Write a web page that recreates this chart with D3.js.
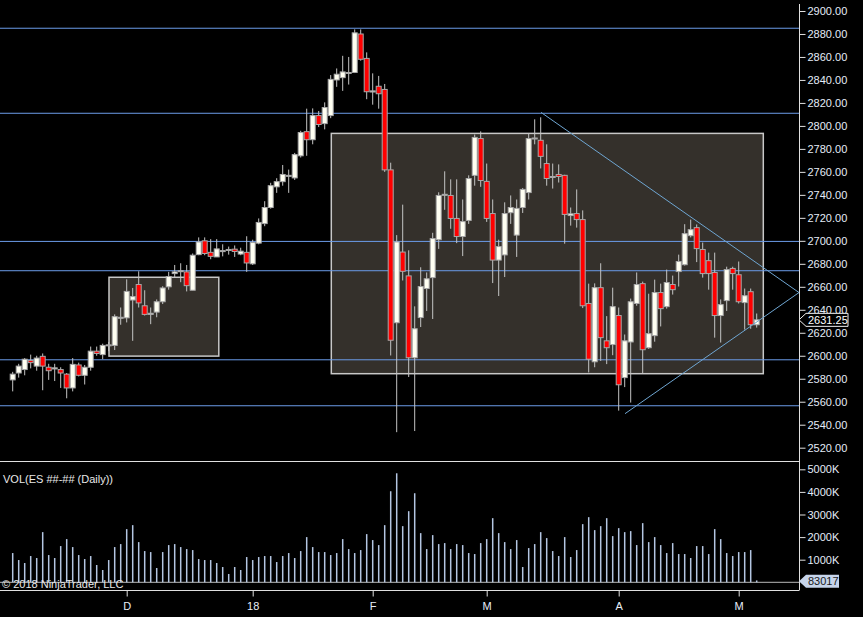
<!DOCTYPE html>
<html lang="en">
<head>
    <meta charset="UTF-8">
    <title>ES ##-## Daily</title>
    <script src="https://cdnjs.cloudflare.com/ajax/libs/d3/7.8.5/d3.min.js"></script>
    <style>
        body { margin: 0; background: #000; }
        svg { display: block; font-family: "Liberation Sans", Arial, sans-serif; }
    </style>
</head>
<body>
<svg id="chart" width="863" height="617"></svg>
<script>
// daily bars, oldest first
const opens = [2579,2585,2588,2596,2591,2599.5,2590,2588.5,2588,2584,2572,2592,2583,2590,2604,2601,2609.5,2609,2633,2633,
  2648.5,2662,2643.5,2636,2638,2647,2660,2671.5,2673.5,2673,2657,2688,2700,2690,2686,2691,2692,2692.75,2688.5,2690,
  2680,2698,2715,2729,2747,2751.5,2756.5,2754.75,2774,2795,2788,2809,2802,2809,2840,2842,2846.5,2846.5,2880,2858.75,
  2829.5,2834.5,2831.75,2761.75,2628.75,2690.25,2669.5,2598.25,2633.25,2658.5,2668,2701,2740,2739.5,2719.5,2703.75,2717.75,2757,2789,2751.75,
  2723.75,2683.25,2687.75,2724.5,2705,2729,2742,2789,2787.5,2767.25,2755.5,2757.75,2757,2722,2723.75,2718.5,2645.5,2594.75,2659.25,2613,
  2609.75,2635,2581,2612,2645.5,2662.75,2607,2617.5,2655,2642.75,2662,2673.25,2679.25,2704.5,2711.5,2692.5,2682.75,2672.5,2635,2648,
  2676,2670.5,2646.25,2655.75,2627];
const highs = [2586,2593,2598,2601,2600,2602,2593,2593,2590,2585,2598,2594,2592,2608,2608,2610.5,2612,2636,2642,2666.5,
  2659,2673.5,2657,2642,2649,2660.5,2673,2679,2680.5,2679,2689,2703,2703,2701.5,2701.5,2697,2695,2696,2694,2704,
  2701,2719.5,2734.5,2750.5,2754.5,2766,2762,2776.5,2795.75,2815,2815.25,2813,2820.5,2844.25,2850,2861,2860,2884,2884,2864,
  2845.75,2843.5,2836.5,2768,2705,2731.5,2691.75,2643,2677,2672.5,2707,2742.25,2760.5,2753.5,2753.5,2736,2757,2792.5,2795.25,2767.25,
  2736,2701,2733.5,2739.5,2736,2746,2793.5,2805.75,2807.5,2784,2767.25,2766.5,2757.5,2729,2744.75,2726.5,2662.75,2663,2680.5,2634.5,
  2659.25,2642,2618.5,2649.75,2672.5,2664.5,2654,2666.25,2662.75,2675,2669.75,2688,2714.5,2718.5,2714.25,2698.5,2689.75,2689.75,2649,2677.5,
  2677.5,2682,2658.5,2658.5,2636.75];
const lows = [2569,2581,2583,2589,2587,2570,2579,2578,2572,2563,2569,2582,2575,2587,2600,2597,2604,2605,2627,2629,
  2613,2642,2635,2627.5,2633.5,2645,2657.5,2668,2664,2656,2657,2687.5,2687.5,2684,2686,2686.5,2688,2686,2687.5,2673,
  2679,2697,2712.75,2728,2741.75,2748,2741.75,2753,2772.5,2774,2784,2799,2797,2806.75,2834,2830.5,2836,2846,2856.75,2823.25,
  2818.5,2815,2760,2600.25,2533.5,2665.5,2581.5,2534.5,2625,2639,2632,2693,2727,2710.5,2698,2686.75,2714.75,2748,2747,2716.5,
  2663.25,2652,2668.5,2714.75,2686,2724.25,2736,2784,2763,2748,2745.5,2750.75,2697.5,2713.25,2711.5,2641.5,2585.5,2590,2595.5,2592.75,
  2600.5,2552.25,2572.75,2559.25,2643.5,2585,2606,2612.25,2625.5,2641,2653.25,2660.25,2678.5,2703,2681.5,2668,2657.5,2615.75,2611.5,2639,
  2657.5,2645.5,2622.75,2623.5,2624.5];
const closes = [2584,2591,2597,2594,2598,2591,2587,2589.5,2585,2572,2592.5,2583,2590,2604,2602,2609,2609.5,2634,2633.5,2656,
  2651.5,2646,2636,2637,2647,2659,2669,2673,2674,2661,2687.5,2699,2689,2686.5,2693,2691.5,2692.5,2690.75,2691,2680.75,
  2698.5,2716,2729,2748,2751.5,2757.75,2757,2775,2794.25,2788,2809,2801.25,2816,2840.5,2845,2847,2846.5,2881,2858,2829.75,
  2830.5,2828,2761.75,2613.5,2699,2673.5,2598.25,2623.5,2660.25,2667,2702,2739.5,2740.5,2719.5,2703.75,2716.75,2754.25,2790,2752.5,2719.5,
  2683.25,2695,2723.75,2729,2728.25,2744.75,2789,2789.5,2773.5,2754.25,2756,2756,2723,2723.5,2718.5,2643.5,2597,2659.25,2615.75,2607,
  2642.75,2574.75,2613,2647,2662,2605.25,2619.25,2655,2641,2663.75,2657.5,2682,2706.25,2709.75,2693.25,2671.5,2671.5,2635,2644.5,2675,
  2671.5,2647,2652.25,2627,2631.25];
// volume in thousands
const volumes = [1294,985,853,1162,1074,2220,1206,1074,1603,1912,1559,1206,1029,1162,765,544,985,1559,1691,2353,
  2529,1779,1382,1338,632,1338,1647,1691,1559,1470,1426,1029,985,985,853,676,368,676,544,1118,
  985,1118,1162,1162,897,1162,1294,1074,1382,2000,1559,1338,1338,1206,1294,1912,1470,1294,1426,2132,
  1868,1647,2529,4029,4824,2485,3147,3941,2176,1470,2088,1691,1735,1470,1691,1647,1294,1250,1735,1912,
  2838,2176,1779,1470,1868,676,1515,1691,2220,1956,1382,1162,2000,1118,1426,2574,2882,2309,2485,2838,
  2044,2397,2220,2265,1647,2618,1779,2000,1647,1294,1735,1250,1250,1074,1603,1603,1250,2353,1912,1294,
  1162,1338,1338,1426,83.017];

const tickBars = [19, 40, 60, 79, 101, 121];
const tickLabels = ["D", "18", "F", "M", "A", "M"];
const priceTicks = d3.range(2520, 2901, 20);
const volTicks = [1000, 2000, 3000, 4000, 5000];

// drawing objects (bar index, price)
const levels = [2885, 2811, 2699.5, 2674, 2596.5, 2556.5];
const boxBars = [[16.05, 34.35], [53.1, 125.1]];
const boxPrices = [[2668.3, 2599.7], [2793.5, 2584.4]];
const triangle = [[88.05, 2811.8], [131.05, 2655], [102.05, 2549.6]];

const axisX = 799;
const svg = d3.select("#chart");
svg.append("rect").attr("width", 863).attr("height", 617).attr("fill", "#000");

const x = d3.scaleLinear().domain([0, 124]).range([12.7, 756.7]);
const y = d3.scaleLinear().domain([2520, 2900]).range([447.7, 11]);
const yv = d3.scaleLinear().domain([0, 5000]).range([582.3, 469.3]);

// boxes
svg.append("g").selectAll("rect").data(boxBars).enter().append("rect")
    .attr("x", d => x(d[0]))
    .attr("width", d => x(d[1]) - x(d[0]))
    .attr("y", (d, i) => y(boxPrices[i][0]))
    .attr("height", (d, i) => y(boxPrices[i][1]) - y(boxPrices[i][0]))
    .attr("fill", "#34302b")
    .attr("stroke", "#c8c8c8")
    .attr("stroke-width", 1.5);

// horizontal levels
svg.append("g").selectAll("line").data(levels).enter().append("line")
    .attr("x1", 0).attr("x2", axisX)
    .attr("y1", d => y(d)).attr("y2", d => y(d))
    .attr("stroke", "#6b9be8").attr("stroke-width", 1);

// candles
const bars = d3.range(opens.length);
const candles = svg.append("g");
candles.selectAll("line").data(bars).enter().append("line")
    .attr("x1", i => x(i)).attr("x2", i => x(i))
    .attr("y1", i => y(highs[i])).attr("y2", i => y(lows[i]))
    .attr("stroke", "#c4c4c4").attr("stroke-width", 1);
candles.selectAll("rect").data(bars).enter().append("rect")
    .attr("x", i => x(i) - 2.5)
    .attr("width", 5)
    .attr("y", i => y(Math.max(opens[i], closes[i])))
    .attr("height", i => Math.max(1, Math.abs(y(opens[i]) - y(closes[i]))))
    .attr("fill", i => closes[i] > opens[i] ? "#fffff2" : closes[i] < opens[i] ? "#ff0000" : "#c8c8c8")
    .attr("stroke", "#a8a8a8").attr("stroke-width", 1);

// triangle
svg.append("path")
    .attr("d", d3.line().x(d => x(d[0])).y(d => y(d[1]))(triangle))
    .attr("fill", "none").attr("stroke", "#6fa6d2").attr("stroke-width", 1);

// panel borders
svg.append("line").attr("x1", 0).attr("x2", axisX).attr("y1", 461.5).attr("y2", 461.5).attr("stroke", "#e0e0e0");
svg.append("line").attr("x1", 0).attr("x2", axisX).attr("y1", 590.5).attr("y2", 590.5).attr("stroke", "#e0e0e0");
svg.append("line").attr("x1", axisX + 0.5).attr("x2", axisX + 0.5).attr("y1", 4).attr("y2", 590.5).attr("stroke", "#e0e0e0");

// price axis
const pAxis = svg.append("g").attr("transform", `translate(${axisX + 0.5},0)`)
    .call(d3.axisRight(y).tickValues(priceTicks).tickFormat(d3.format(".2f")).tickSize(6).tickPadding(2));
pAxis.select(".domain").remove();
pAxis.selectAll("line").attr("stroke", "#e0e0e0");
pAxis.selectAll("text").attr("fill", "#e4ecf8").attr("font-size", 11).attr("font-family", "Liberation Sans, Arial, sans-serif");

// volume
svg.append("line").attr("x1", 0).attr("x2", axisX).attr("y1", yv(0)).attr("y2", yv(0)).attr("stroke", "#b8b8b8");
svg.append("g").selectAll("rect").data(bars).enter().append("rect")
    .attr("x", i => x(i) - 0.75)
    .attr("width", 1.5)
    .attr("y", i => yv(volumes[i]))
    .attr("height", i => yv(0) - yv(volumes[i]))
    .attr("fill", "#b4c6e2");

const vAxis = svg.append("g").attr("transform", `translate(${axisX + 0.5},0)`)
    .call(d3.axisRight(yv).tickValues(volTicks).tickFormat(d => d + "K").tickSize(6).tickPadding(2));
vAxis.select(".domain").remove();
vAxis.selectAll("line").attr("stroke", "#e0e0e0");
vAxis.selectAll("text").attr("fill", "#e4ecf8").attr("font-size", 11).attr("font-family", "Liberation Sans, Arial, sans-serif");

// time axis
const tAxis = svg.append("g").attr("transform", "translate(0,590.5)")
    .call(d3.axisBottom(x).tickValues(tickBars).tickFormat((d, i) => tickLabels[i]).tickSize(6).tickPadding(6));
tAxis.select(".domain").remove();
tAxis.selectAll("line").attr("stroke", "#e0e0e0");
tAxis.selectAll("text").attr("fill", "#e8eef8").attr("font-size", 11).attr("font-family", "Liberation Sans, Arial, sans-serif");

// last price / volume markers
function marker(yy, w, fill, stroke, txt, txtFill) {
    const g = svg.append("g");
    g.append("path")
        .attr("d", `M${axisX},${yy} L${axisX + 7},${yy - 6.5} L${axisX + w},${yy - 6.5} L${axisX + w},${yy + 6.5} L${axisX + 7},${yy + 6.5} Z`)
        .attr("fill", fill).attr("stroke", stroke);
    g.append("text").attr("x", axisX + 9).attr("y", yy + 4).attr("font-size", 11)
        .attr("fill", txtFill).text(txt);
}
const last = closes.length - 1;
marker(y(closes[last]), 49, "#000", "#f0f0f0", d3.format(".2f")(closes[last]), "#ffffff");
marker(yv(0) - 1, 40, "#c6d4ea", "none", Math.round(volumes[last] * 1000), "#1a1a1a");

// captions
svg.append("text").attr("x", 3).attr("y", 483).attr("font-size", 11).attr("fill", "#e8e8e8")
    .text("VOL(ES ##-## (Daily))");
svg.append("text").attr("x", 2).attr("y", 588).attr("font-size", 11).attr("fill", "#e8e8e8")
    .text("© 2018 NinjaTrader, LLC");
</script>
</body>
</html>
